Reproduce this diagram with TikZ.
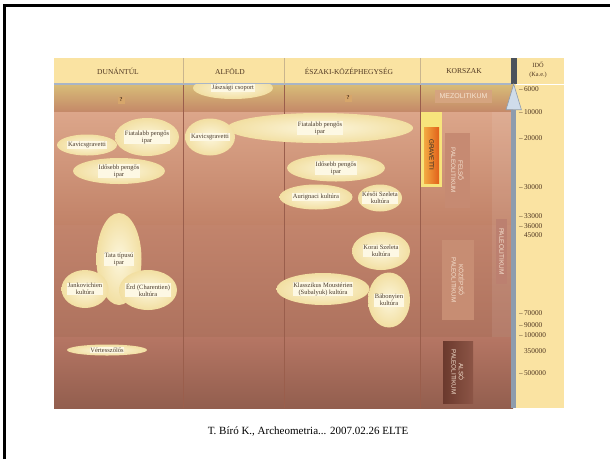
\documentclass[tikz,border=0pt]{standalone}
\usepackage{fontspec}
\setmainfont{Liberation Serif}
\setsansfont{Liberation Sans}
\usetikzlibrary{shapes.geometric,arrows.meta}
\definecolor{chartyellow}{HTML}{FAE3A2}
\definecolor{headline}{HTML}{A9B5C6}
\definecolor{headink}{HTML}{4E3520}
\definecolor{headrule}{HTML}{C9B58E}
\definecolor{divider}{HTML}{9A5E4C}
\definecolor{lobein}{HTML}{FCF6DC}
\definecolor{lobeout}{HTML}{F2DFA2}
\definecolor{lobebox}{HTML}{FDF8E4}
\definecolor{lobeink}{HTML}{4A3B2C}
\definecolor{eraink}{HTML}{F6E4D2}
\definecolor{queryfill}{HTML}{D6A66B}
\definecolor{scaleshaft}{HTML}{8E9CAD}
\definecolor{scalehead}{HTML}{CFDCEA}
\definecolor{scaledark}{HTML}{4B525B}
\definecolor{bandAtop}{HTML}{D8BD78}
\definecolor{bandAbot}{HTML}{C48868}
\definecolor{bandBtop}{HTML}{DCA68A}
\definecolor{bandBbot}{HTML}{C18268}
\definecolor{bandCtop}{HTML}{C2846C}
\definecolor{bandCbot}{HTML}{AE725E}
\definecolor{bandDtop}{HTML}{B67664}
\definecolor{bandDbot}{HTML}{925E4E}
\definecolor{mezofill}{HTML}{D5A47F}
\definecolor{gravyellow}{HTML}{F7E47C}
\definecolor{gravlight}{HTML}{F2AA42}
\definecolor{gravdeep}{HTML}{E2601A}
\definecolor{felsofill}{HTML}{C68A72}
\definecolor{kozepfill}{HTML}{C78D73}
\definecolor{alsotop}{HTML}{6B392D}
\definecolor{alsobot}{HTML}{8C5546}
\definecolor{paleofill}{HTML}{BC8070}
\tikzset{
    lobe/.style={ellipse, inner sep=0pt, inner color=lobein, outer color=lobeout},
    lobetext/.style={fill=lobebox, inner sep=0.7pt, align=center, text=lobeink,
        font=\fontsize{6.5}{7}\selectfont},
    colhead/.style={text=headink, align=center, font=\fontsize{7.5}{9}\selectfont},
    erabox/.style={inner sep=0pt, align=center, text=eraink, rotate=-90,
        font=\sffamily\fontsize{6.3}{7.2}\selectfont},
    age/.style={anchor=west, inner sep=0pt, text=headink, font=\fontsize{7.3}{8}\selectfont},
    query/.style={fill=queryfill, inner sep=0.8pt, minimum size=7pt, text=headink,
        font=\bfseries\fontsize{6}{7}\selectfont},
}
\def\Lobe(#1) at (#2,#3) size (#4,#5) #6;{
    \node[lobe, minimum width=#4, minimum height=#5] (#1) at (#2,#3) {};
    \node[lobetext] (#1-t) at (#1) {#6};
}
\def\Age(#1) at #2 #3;{
    \node[age] (#1) at (519,#2) {#3};
}
\begin{document}
\begin{tikzpicture}[x=1pt, y=-1pt]
    \useasboundingbox (0,0) rectangle (610,459);
    \draw[line width=2.5pt] (4.5,459) -- (4.5,5.3) -- (610,5.3);
    % chart ground and bands
    \fill[chartyellow] (54,58) rectangle (564,408);
    \fill[top color=bandAtop, bottom color=bandAbot] (54,84) rectangle (513,112);
    \fill[top color=bandBtop, bottom color=bandBbot] (54,112) rectangle (513,225);
    \fill[top color=bandCtop, bottom color=bandCbot] (54,225) rectangle (513,337);
    \fill[top color=bandDtop, bottom color=bandDbot] (54,337) rectangle (513,408);
    \fill[white, opacity=0.08] (492,112) rectangle (511,337);
    \draw[headline, line width=1.5pt] (54,84) -- (511,84);
    \draw[white, line width=1pt] (516,84) -- (564,84);
    \foreach \cx in {183,284,420} {
        \draw[headrule, line width=0.8pt] (\cx,58) -- (\cx,84);
        \draw[divider, line width=0.8pt] (\cx,85) -- (\cx,408);
    }
    % column heads
    \node[colhead] (dunantul) at (118,71) {DUNÁNTÚL};
    \node[colhead] (alfold) at (230,71) {ALFÖLD};
    \node[colhead] (eszaki) at (349,71) {ÉSZAKI-KÖZÉPHEGYSÉG};
    \node[colhead] (korszak) at (464,71) {KORSZAK};
    \node[colhead, font=\fontsize{6.3}{9}\selectfont] (ido) at (538,70) {IDŐ\\(Ka.e.)};
    % cultures
    \begin{scope}
        \clip (54,84.8) rectangle (511,408);
        \Lobe(jaszsag) at (233,88) size (80,22) {Jászsági csoport};
    \end{scope}
    \node[query] (qdunantul) at (121,100) {?};
    \node[query] (qeszaki) at (348,98) {?};
    \Lobe(kavdun) at (87,145) size (60,21) {Kavicsgravetti};
    \Lobe(fiadun) at (147,137) size (64,38) {Fiatalabb pengős\\ipar};
    \Lobe(idodun) at (119,171) size (92,26) {Idősebb pengős\\ipar};
    \Lobe(fiaesz) at (320,128) size (186,30) {Fiatalabb pengős\\ipar};
    \Lobe(kavalf) at (210,137) size (50,37) {Kavicsgravetti};
    \Lobe(idoesz) at (336,168) size (98,27) {Idősebb pengős\\ipar};
    \Lobe(aurig) at (316,197) size (73,25) {Aurignaci kultúra};
    \Lobe(keszel) at (380,198) size (44,27) {Késői Szeleta\\kultúra};
    \Lobe(korszel) at (381,251) size (58,38) {Korai Szeleta\\kultúra};
    \Lobe(klassz) at (323,289) size (93,32) {Klasszikus Moustérien\\(Subalyuk) kultúra};
    \Lobe(babony) at (389,300) size (42,55) {Bábonyien\\kultúra};
    \Lobe(tata) at (119,259) size (45,92) {Tata típusú\\ipar};
    \Lobe(jankov) at (85,289) size (47,38) {Jankovichien\\kultúra};
    \Lobe(erd) at (148,290) size (58,40) {Érd (Charentien)\\kultúra};
    \Lobe(vertes) at (107,350) size (80,11) {Vértesszőlős};
    % periods
    \node[fill=mezofill, minimum width=57, minimum height=13,
        text=eraink, font=\sffamily\fontsize{7}{8}\selectfont] (mezo) at (463.5,96.5) {MEZOLITIKUM};
    \node[fill=gravyellow, minimum width=21, minimum height=75] (gravbox) at (431.5,149.5) {};
    \node[erabox, text=black!85, left color=gravlight, right color=gravdeep,
        minimum width=56, minimum height=15] (gravetti) at (431.5,155) {GRAVETTI};
    \node[erabox, fill=felsofill, minimum width=75, minimum height=25] (felso) at (457.5,170.5) {FELSŐ\\PALEOLITIKUM};
    \node[erabox, fill=kozepfill, minimum width=80, minimum height=32] (kozepso) at (458,280) {KÖZÉPSŐ\\PALEOLITIKUM};
    \node[erabox, left color=alsotop, right color=alsobot,
        minimum width=62, minimum height=30] (also) at (458,372) {ALSÓ\\PALEOLITIKUM};
    \node[erabox, fill=paleofill, minimum width=65, minimum height=11,
        font=\sffamily\fontsize{6.5}{7}\selectfont] (paleo) at (501.5,251.5) {PALEOLITIKUM};
    % time scale
    \fill[scaledark] (511,58) rectangle (516.5,84);
    \coordinate (scalefoot) at (513.7,408);
    \coordinate (scaletip) at (513.7,83);
    \draw[line width=5.5pt, scaleshaft,
        -{Triangle[length=27pt, width=16pt, line width=0.6pt, fill=scalehead]}] (scalefoot) -- (scaletip);
    \Age(a6) at 89 {--\,6000};
    \Age(a10) at 112 {--\,10000};
    \Age(a20) at 138 {--\,20000};
    \Age(a30) at 187 {--\,30000};
    \Age(a33) at 216 {--\,33000};
    \Age(a36) at 226 {--\,36000};
    \Age(a45) at 235 {\phantom{--}\,45000};
    \Age(a70) at 313 {--\,70000};
    \Age(a90) at 325 {--\,90000};
    \Age(a100) at 335 {--\,100000};
    \Age(a350) at 351 {\phantom{--}\,350000};
    \Age(a500) at 373 {--\,500000};
    \node[font=\fontsize{11}{13}\selectfont] (credit) at (308,432) {T. Bíró K., Archeometria... 2007.02.26 ELTE};
\end{tikzpicture}
\end{document}
